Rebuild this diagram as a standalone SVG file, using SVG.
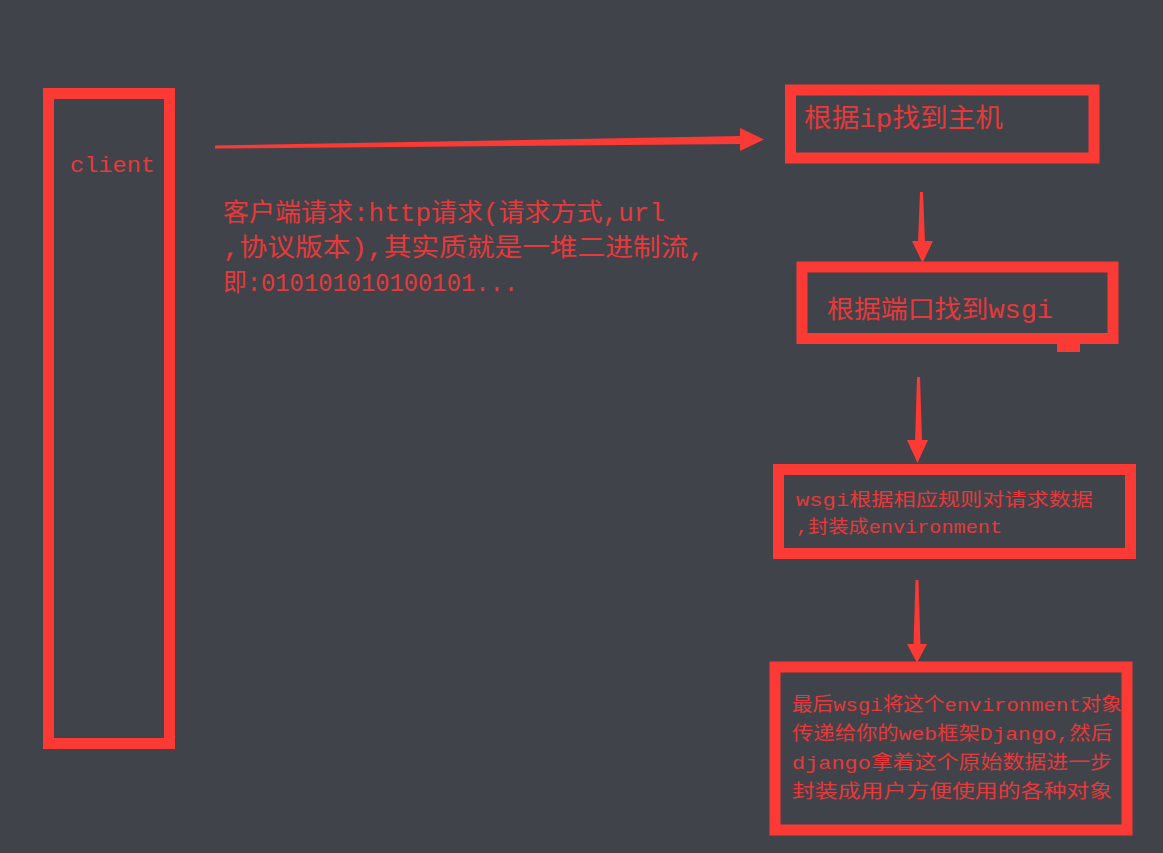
<svg xmlns="http://www.w3.org/2000/svg" width="1163" height="853" viewBox="0 0 1163 853">
<style>
.box{fill:none;stroke:#fb3a36;stroke-width:11}
.arr{fill:#fb3a36;stroke:none}
.t{fill:#e6393b;font-family:"Liberation Mono","Noto Sans CJK SC",monospace}
</style>
<rect width="1163" height="853" fill="#404349"/>
<g id="connectors">
<path class="arr" d="M215,145.5 L742,136 L742,144 L215,148.5 Z"/>
<path class="arr" d="M740,128 L764,139.5 L740,151 Z"/>
<path class="arr" d="M920,192 L923,192 L925,243 L918,243 Z"/>
<path class="arr" d="M912,241 L933,241 L922.5,263 Z"/>
<path class="arr" d="M917,377 L920,377 L922,441 L915,441 Z"/>
<path class="arr" d="M907,440 L928,440 L917.5,463 Z"/>
<path class="arr" d="M915.5,580 L918.5,580 L920.5,646 L913.5,646 Z"/>
<path class="arr" d="M907,644 L927,644 L917,663 Z"/>
</g>
<g id="client">
<rect class="box" x="48.5" y="93.5" width="121" height="650"/>
<text class="t" x="70" y="172" font-size="22" textLength="85" lengthAdjust="spacingAndGlyphs">client</text>
</g>
<g id="request-label">
<text class="t" x="223" y="221" font-size="25" textLength="442" lengthAdjust="spacingAndGlyphs">客户端请求:http请求(请求方式,url</text>
<text class="t" x="223" y="256" font-size="25" textLength="482" lengthAdjust="spacingAndGlyphs">,协议版本),其实质就是一堆二进制流,</text>
<text class="t" x="223" y="291" font-size="25" textLength="295" lengthAdjust="spacingAndGlyphs">即:010101010100101...</text>
</g>
<g id="host">
<rect class="box" x="790.5" y="90" width="303.5" height="68"/>
<text class="t" x="804" y="127" font-size="26" textLength="199" lengthAdjust="spacingAndGlyphs">根据ip找到主机</text>
</g>
<g id="wsgi">
<rect class="box" x="802" y="267" width="311" height="71.5"/>
<rect class="arr" x="1057" y="340" width="23" height="12"/>
<text class="t" x="827" y="318" font-size="25" textLength="226" lengthAdjust="spacingAndGlyphs">根据端口找到wsgi</text>
</g>
<g id="environment">
<rect class="box" x="778.5" y="469.5" width="352" height="84"/>
<text class="t" x="796" y="506" font-size="18" textLength="297" lengthAdjust="spacingAndGlyphs">wsgi根据相应规则对请求数据</text>
<text class="t" x="796" y="533" font-size="18" textLength="206" lengthAdjust="spacingAndGlyphs">,封装成environment</text>
</g>
<g id="django">
<rect class="box" x="775" y="667" width="352" height="163"/>
<text class="t" x="792" y="711" font-size="19" textLength="330" lengthAdjust="spacingAndGlyphs">最后wsgi将这个environment对象</text>
<text class="t" x="792" y="740" font-size="19" textLength="320" lengthAdjust="spacingAndGlyphs">传递给你的web框架Django,然后</text>
<text class="t" x="792" y="769" font-size="19" textLength="320" lengthAdjust="spacingAndGlyphs">django拿着这个原始数据进一步</text>
<text class="t" x="792" y="798" font-size="19" textLength="320" lengthAdjust="spacingAndGlyphs">封装成用户方便使用的各种对象</text>
</g>
</svg>
